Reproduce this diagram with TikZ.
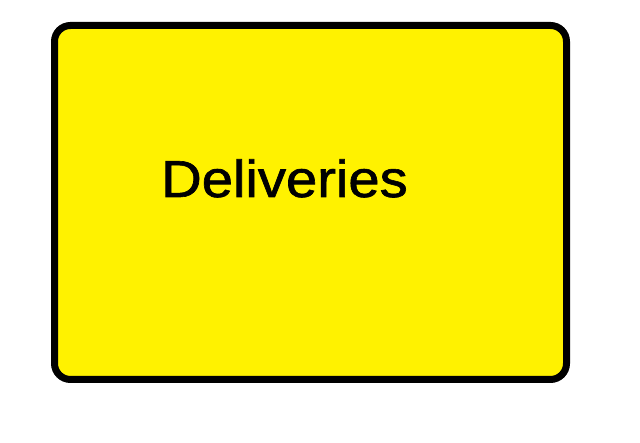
\documentclass[tikz,border=0pt]{standalone}
\usepackage{fontspec}
\setmainfont{Liberation Sans}
\newfontfamily\labelfont[FakeBold=1.2]{Liberation Sans}
\definecolor{boxyellow}{RGB}{255,242,0}
\tikzset{
  boxframe/.style={line width=7pt, rounded corners=16pt, draw=black, fill=boxyellow},
  boxlabel/.style={anchor=base, inner sep=0pt, font=\labelfont\fontsize{52}{60}\selectfont}
}
\begin{document}
\begin{tikzpicture}[x=1pt,y=1pt]
      \useasboundingbox (0,0) rectangle (640,443);

      \draw [boxframe] (54.5,63.5) rectangle (566.5,417.5);
      \node [boxlabel, xscale=1.08, transform shape] (deliv) at (284.5,246) {Deliveries};
    \end{tikzpicture}
\end{document}
